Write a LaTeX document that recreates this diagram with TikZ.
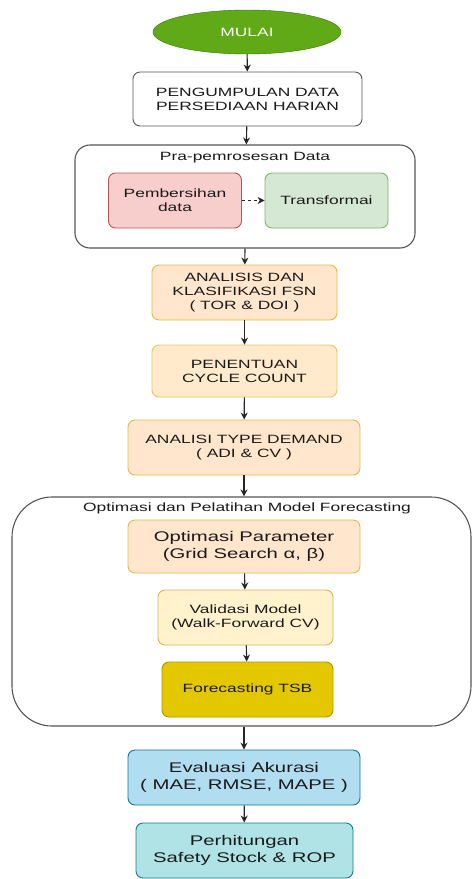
\documentclass[tikz,border=0pt]{standalone}
\usepackage{fontspec}
\setmainfont[FakeStretch=1.45]{Liberation Sans}
\usetikzlibrary{shapes.geometric,arrows.meta}

\definecolor{hijau}{HTML}{60A917}
\definecolor{hijaugaris}{HTML}{2D7600}
\definecolor{teks}{HTML}{1A1A1A}
\definecolor{garis}{HTML}{555555}
\definecolor{merah}{HTML}{F8CECC}
\definecolor{merahgaris}{HTML}{B85450}
\definecolor{hijaumuda}{HTML}{D5E8D4}
\definecolor{hijaumudagaris}{HTML}{82B366}
\definecolor{oranye}{HTML}{FFE6CC}
\definecolor{oranyegaris}{HTML}{D79B00}
\definecolor{krem}{HTML}{FFF2CC}
\definecolor{kremgaris}{HTML}{D6B656}
\definecolor{emas}{HTML}{E3C800}
\definecolor{emasgaris}{HTML}{B09500}
\definecolor{biru}{HTML}{B1DDF0}
\definecolor{birugaris}{HTML}{10739E}
\definecolor{toska}{HTML}{B0E3E6}
\definecolor{toskagaris}{HTML}{0E8088}

\tikzset{
  box/.style={draw, rounded corners=7pt, line width=0.9pt, align=center,
    text=teks, font=\fontsize{12}{14}\selectfont, inner sep=2pt},
  bigbox/.style={box, font=\fontsize{14}{16.5}\selectfont},
  grp/.style={draw=garis, line width=1.1pt, fill=white},
  judul/.style={text=teks, font=\fontsize{12}{14}\selectfont},
  arr/.style={-{Stealth[length=7pt,width=7pt]}, line width=1.1pt, black!85}
}

\begin{document}
\begin{tikzpicture}[x=1pt,y=-1pt]
    \useasboundingbox (0,0) rectangle (472,879);
    
    % Mulai
    \node[ellipse, draw=hijaugaris, fill=hijau, minimum width=188pt, minimum height=44pt,
      text=white, font=\fontsize{12}{14}\selectfont] (mulai) at (247,32) {MULAI};
    \node[box, draw=garis, fill=white, minimum width=229pt, minimum height=54pt] (kumpul) at (247.5,99)
      {PENGUMPULAN DATA\\PERSEDIAAN HARIAN};
    
    % Pra-pemrosesan
    \node[grp, rounded corners=15pt, minimum width=340pt, minimum height=103pt] (pra) at (245,196.5) {};
    \node[judul] (prajudul) at (245,158) {Pra-pemrosesan Data};
    \node[box, draw=merahgaris, fill=merah, minimum width=133pt, minimum height=55pt] (bersih) at (175,200.5)
      {Pembersihan\\data};
    \node[box, draw=hijaumudagaris, fill=hijaumuda, minimum width=123pt, minimum height=55pt] (transf) at (326.5,200.5)
      {Transformai};
    \draw[arr, dashed, line width=0.7pt] (bersih) -- (transf);
    
    % Analisis
    \node[box, draw=oranyegaris!70, fill=oranye, minimum width=185pt, minimum height=55pt] (fsn) at (244.5,292.5)
      {ANALISIS DAN\\KLASIFIKASI FSN\\( TOR \& DOI )};
    \node[box, draw=oranyegaris!60, fill=oranye!55!krem, minimum width=185pt, minimum height=52pt] (cycle) at (244.5,371)
      {PENENTUAN\\CYCLE COUNT};
    \node[box, draw=oranyegaris!70, fill=oranye, minimum width=232pt, minimum height=55pt] (demand) at (244,447.5)
      {ANALISI TYPE DEMAND\\( ADI \& CV )};
    
    % Optimasi dan pelatihan
    \node[grp, rounded corners=40pt, minimum width=459pt, minimum height=229pt] (optim) at (241.5,611.5) {};
    \node[judul] (optimjudul) at (247,508) {Optimasi dan Pelatihan Model Forecasting};
    \node[bigbox, draw=oranyegaris!70, fill=oranye, minimum width=232pt, minimum height=53pt] (param) at (244,546.5)
      {Optimasi Parameter\\(Grid Search α, β)};
    \node[box, draw=kremgaris, fill=krem, minimum width=175pt, minimum height=55pt] (valid) at (245.5,617.5)
      {Validasi Model\\(Walk-Forward CV)};
    \node[box, draw=emasgaris, fill=emas, minimum width=171pt, minimum height=55pt] (tsb) at (247.5,689.5)
      {Forecasting TSB};
    
    % Evaluasi
    \node[bigbox, draw=birugaris, fill=biru, minimum width=232pt, minimum height=55pt] (eval) at (244,777.5)
      {Evaluasi Akurasi\\( MAE, RMSE, MAPE )};
    \node[bigbox, draw=toskagaris, fill=toska, minimum width=217pt, minimum height=55pt] (rop) at (244.5,850.5)
      {Perhitungan\\Safety Stock \& ROP};
    
    % Panah
    \draw[arr] (mulai) -- (kumpul);
    \draw[arr] (kumpul) -- (pra);
    \draw[arr] (pra.south) -- (fsn);
    \draw[arr] (fsn) -- (cycle);
    \draw[arr] (cycle) -- (demand);
    \draw[arr] (demand) -- (demand |- optim.north);
    \draw[arr] (param) -- (valid);
    \draw[arr] (valid) -- (tsb);
    \draw[arr] (eval |- optim.south) -- (eval);
    \draw[arr] (eval) -- (rop);
\end{tikzpicture}
\end{document}
